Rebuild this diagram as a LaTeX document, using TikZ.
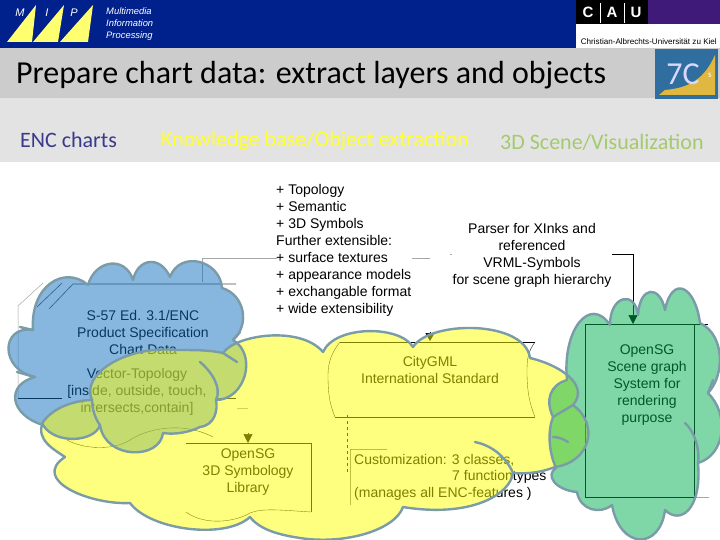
\documentclass[tikz,border=0pt]{standalone}
\usepackage{fontspec}
\setmainfont{Liberation Sans}
\newfontfamily\calfont{Carlito}
\usetikzlibrary{arrows.meta}
\definecolor{navy}{HTML}{00208C}
\definecolor{purp}{HTML}{3F1A78}
\definecolor{cloudline}{HTML}{7A9BA8}
\definecolor{band}{HTML}{CCCCCC}
\definecolor{lband}{HTML}{E3E3E3}
\definecolor{sailyellow}{HTML}{FFFF70}
\definecolor{logoblue}{HTML}{2F6E9E}
\definecolor{logoyellow}{HTML}{E0B840}
\definecolor{pureyellow}{HTML}{FFFF00}
\definecolor{cloudblue}{HTML}{1070C0}
\definecolor{cloudgreen}{HTML}{00B050}
\definecolor{enctext}{HTML}{3A3A8C}
\definecolor{kbtext}{HTML}{FFFF30}
\definecolor{scenetext}{HTML}{A5C96E}
\tikzset{
  cloudfill/.style={fill opacity=.5,draw=none},
  cloudedge/.style={draw=cloudline,line width=2.4pt,fill=none,line join=round,line cap=round},
  thin line/.style={draw=black,line width=.6pt},
  faint line/.style={draw=gray!70,line width=.5pt},
  wave/.style={draw=black,line width=.35pt},
  arrowline/.style={draw=black,line width=.7pt,-{Triangle[length=9pt,width=9pt]}},
  label/.style={align=center,font=\fontsize{14}{17}\selectfont,inner sep=0pt},
  bandtext/.style={font=\calfont\fontsize{22}{26}\selectfont,anchor=west,inner sep=0pt},
  miptext/.style={text=white,font=\itshape\fontsize{11}{11}\selectfont,inner sep=0pt},
  cautext/.style={text=white,font=\bfseries\fontsize{15}{15}\selectfont,inner sep=0pt},
}
\newcommand{\bluepath}{(33,330) .. controls (30,285) and (65,265) .. (88,285)
 .. controls (95,260) and (125,255) .. (133,280)
 .. controls (138,258) and (160,255) .. (170,277)
 .. controls (180,250) and (220,260) .. (222,288)
 .. controls (245,295) and (250,325) .. (233,340)
 .. controls (258,355) and (245,400) .. (216,400)
 .. controls (218,410) and (215,425) .. (200,427)
 .. controls (190,432) and (175,435) .. (163,433)
 .. controls (160,460) and (105,460) .. (100,425)
 .. controls (95,442) and (55,445) .. (43,425)
 .. controls (10,415) and (5,385) .. (35,377)
 .. controls (0,370) and (0,325) .. (33,330)}
\newcommand{\yellowpath}{(43,422) .. controls (55,405) and (80,400) .. (92,400)
 .. controls (80,375) and (125,345) .. (177,350)
 .. controls (195,350) and (210,350) .. (223,353)
 .. controls (235,335) and (300,325) .. (323,352)
 .. controls (335,325) and (400,325) .. (413,347)
 .. controls (430,320) and (525,320) .. (530,358)
 .. controls (560,365) and (590,385) .. (573,405)
 .. controls (600,425) and (590,462) .. (555,467)
 .. controls (540,473) and (525,474) .. (513,473)
 .. controls (510,495) and (470,518) .. (403,507)
 .. controls (395,530) and (345,545) .. (300,538)
 .. controls (280,535) and (260,530) .. (250,517)
 .. controls (225,540) and (150,530) .. (130,503)
 .. controls (90,505) and (30,480) .. (65,457)
 .. controls (55,450) and (35,440) .. (43,422)}
\newcommand{\greenpath}{(567,380) .. controls (562,330) and (590,295) .. (610,325)
 .. controls (610,295) and (635,290) .. (638,315)
 .. controls (640,285) and (660,285) .. (665,310)
 .. controls (672,275) and (695,285) .. (700,323)
 .. controls (725,335) and (725,375) .. (708,393)
 .. controls (730,415) and (725,455) .. (698,463)
 .. controls (702,510) and (680,525) .. (665,510)
 .. controls (660,550) and (620,550) .. (612,505)
 .. controls (600,515) and (580,510) .. (577,492)
 .. controls (555,490) and (545,475) .. (556,468)
 .. controls (548,450) and (548,430) .. (553,417)
 .. controls (545,400) and (550,385) .. (567,380)}
\begin{document}
\begin{tikzpicture}[x=1pt,y=-1pt]
\useasboundingbox (0,0) rectangle (720,540);
\fill[white] (0,0) rectangle (720,540);
% header
\fill[navy] (0,0) rectangle (720,48);
\fill[white] (576,24) rectangle (720,48);
\fill[black] (576,0) rectangle (648,24);
\fill[purp] (648,0) rectangle (720,24);
\fill[lband] (0,98) rectangle (720,162);
\fill[band] (0,48) rectangle (720,98);
% sails
\fill[sailyellow] (7,42) -- (36,5) -- (32,42) -- cycle;
\fill[sailyellow] (33,42) -- (64,5) -- (58,42) -- cycle;
\fill[sailyellow] (60,42) -- (93,5) -- (88,42) -- cycle;
\node[miptext] (mm) at (20,13) {M};
\node[miptext] (mi) at (47,13) {I};
\node[miptext] (mp) at (74,13) {P};
\node[text=white,font=\itshape\fontsize{9.4}{12.3}\selectfont,align=left,anchor=west,inner sep=0pt] (mip) at (106,24) {Multimedia\\Information\\Processing};
\node[cautext] (cauc) at (588,12) {C};
\node[cautext] (caua) at (612,12) {A};
\node[cautext] (cauu) at (636,12) {U};
\draw[white,line width=.6pt] (600,3) -- (600,23) (624,3) -- (624,23);
\node[font=\fontsize{8.1}{9}\selectfont,anchor=east,inner sep=0pt] (kiel) at (717,41.5) {Christian-Albrechts-Universität zu Kiel};
% JCs logo
\fill[logoblue] (655,49) rectangle (718,99);
\fill[logoyellow] (659,95) -- (665,90) .. controls (690,88) and (705,78) .. (715,55) -- (715,95) -- cycle;
\node[text=white!85!blue,font=\calfont\fontsize{32}{32}\selectfont,inner sep=0pt] (jcs) at (683,74) {7C};
\node[text=white,font=\calfont\fontsize{9}{9}\selectfont,inner sep=0pt] (jcss) at (710,75) {s};
\node[anchor=west,font=\calfont\fontsize{32}{36}\selectfont,inner sep=0pt] (title) at (16,75) {Prepare chart data: extract layers and objects};
\node[bandtext,text=enctext] (enc) at (20,140) {ENC charts};
\node[bandtext,text=kbtext] (kb) at (161,141) {Knowledge base/Object extraction};
\node[bandtext,text=scenetext] (scene) at (500,142) {3D Scene/Visualization};
% box lines beneath the clouds
\coordinate (a1) at (202,258); \coordinate (a2) at (202,282); \coordinate (a3) at (277,258);
\coordinate (a4) at (412,258); \coordinate (a5) at (430,258);
\draw[faint line] (a2) -- (a1) -- (a3) (a4) -- (a5);
\draw[faint line] (450,254) -- (452,254);
\coordinate (s1) at (73,284); \coordinate (s2) at (236,284); \coordinate (s3) at (49,309);
\draw[thin line,draw=black!70] (s3) -- (s1) -- (s2);
\draw[thin line,draw=black!70] (62,283) -- (37,307);
\draw[faint line] (43,283) -- (18,306) -- (18,398);
\draw[thin line] (18,398) -- (62,398) (217,398) -- (236,398);
\draw[faint line] (237,408) -- (248,408);
% opensg symbology
\coordinate (o1) at (186,443); \coordinate (o2) at (311,443); \coordinate (o3) at (311,512); \coordinate (oa) at (248,433);\coordinate (ob) at (248,443);
\draw[thin line] (o1) -- (o2) -- (o3);
\draw[arrowline] (oa) -- (ob);
\draw[wave] (o3) .. controls (280,510) and (262,508) .. (250,513) .. controls (235,522) and (205,526) .. (186,512);
\draw[wave] (67,440) .. controls (85,450) and (115,450) .. (130,440) .. controls (145,430) and (180,420) .. (213,437);
% citygml
\coordinate (c1) at (340,342); \coordinate (c2) at (535,342); \coordinate (c3) at (535,417); \coordinate (c4) at (335,417);
\draw[thin line] (c1) -- (c2) (c3) -- (c4);
\draw[wave] (c2) .. controls (528,352) and (527,358) .. (527,372) .. controls (527,392) and (530,405) .. (c3);
\draw[wave] (c1) .. controls (332,352) and (328,362) .. (328,375) .. controls (328,395) and (330,405) .. (c4);
\draw[arrowline,-{Triangle[length=8pt,width=9pt]}] (430,332) -- (430,341);
% customization
\draw[thin line,draw=black!50] (350,505) -- (350,449) -- (387,449);
\draw[wave,dashed] (347,415) -- (347,472);
% green box
\coordinate (g1) at (585,324); \coordinate (g2) at (694,324); \coordinate (g3) at (694,497); \coordinate (g4) at (585,497);
\draw[thin line] (g1) -- (g2) -- (g3) -- (g4) -- cycle;
\draw[thin line] (g2) -- (708,324);
\draw[faint line] (g3) -- (709,497);
% texts beneath the clouds
\node[label,anchor=north west,align=left] (plus) at (276,184) {+ Topology\\+ Semantic\\+ 3D Symbols\\Further extensible:\\+ surface textures\\+ appearance models\\+ exchangable format\\+ wide extensibility};
\node[label] (parser) at (532,255) {Parser for XInks and\\referenced\\VRML-Symbols\\for scene graph hierarchy};
\coordinate (gt) at (633,324);
\draw[arrowline] (parser.east |- 0,254) -| (gt);
\node[label] (s57) at (143,332) {S-57 Ed. 3.1/ENC\\Product Specification\\Chart Data};
\node[label] (vt) at (137,392) {Vector-Topology\\{[inside, outside, touch,}\\intersects,contain]};
\node[label] (city) at (430,370) {CityGML\\International Standard};
\node[label] (symb) at (248,472) {OpenSG\\3D Symbology\\Library};
\node[label,inner sep=0pt] (sg) at (647,385) {OpenSG\\Scene graph\\System for\\rendering\\purpose};
\node[label,anchor=west] (cu1) at (354,460) {Customization: 3 classes,};
\node[label,anchor=west] (cu2) at (452,477) {7 functiontypes};
\node[label,anchor=west] (cu3) at (354,494) {(manages all ENC-features )};
% clouds
\fill[cloudfill,fill=cloudblue] \bluepath -- cycle;
\fill[cloudfill,fill=pureyellow] \yellowpath -- cycle;
\fill[cloudfill,fill=cloudgreen] \greenpath -- cycle;
\draw[cloudedge] \bluepath;
\draw[cloudedge] (33,330) -- (20,327);
\draw[cloudedge] (233,340) -- (240,332);
\draw[cloudedge] (35,377) -- (17,372);
\draw[cloudedge] (200,362) .. controls (212,372) and (222,388) .. (216,400);
\draw[cloudedge] (92,400) .. controls (92,410) and (96,420) .. (100,425);
\draw[cloudedge] \yellowpath;
\draw[cloudedge] (223,353) -- (237,362);
\draw[cloudedge] (475,442) .. controls (490,445) and (505,455) .. (513,473);
\draw[cloudedge] \greenpath;
\draw[cloudedge] (568,442) .. controls (562,438) and (557,437) .. (553,437);
\draw[cloudedge] (553,417) -- (573,405);
\draw[cloudedge] (708,393) -- (713,380);
\draw[cloudedge] (685,423) .. controls (695,432) and (700,450) .. (698,463);
\end{tikzpicture}
\end{document}
